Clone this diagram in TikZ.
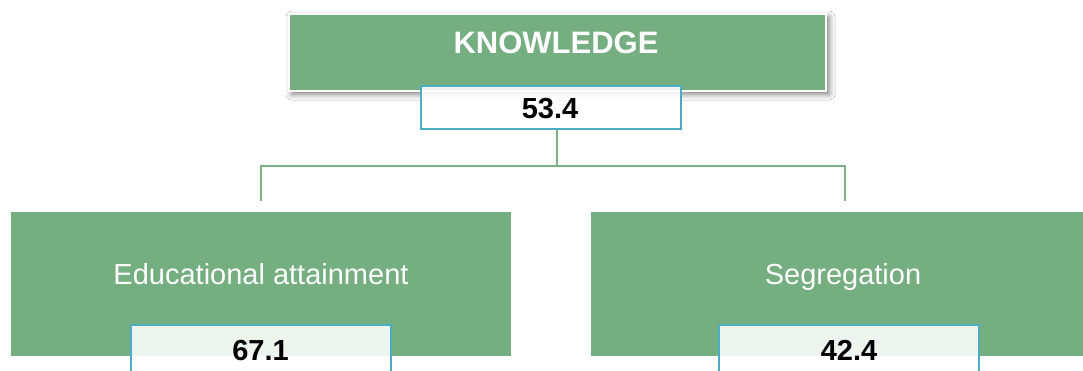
\documentclass[tikz,border=0pt]{standalone}
\usepackage{fontspec}
\setmainfont{Liberation Sans}
\usetikzlibrary{shadows.blur}
\definecolor{boxgreen}{RGB}{117,174,128}
\definecolor{linegreen}{RGB}{122,178,133}
\definecolor{valblue}{RGB}{75,172,198}
\pgfdeclarelayer{bg}
\pgfsetlayers{bg,main}
\tikzset{
  catbox/.style={rectangle, fill=boxgreen, draw=white, line width=1.2pt, inner sep=0pt},
  valbox/.style={rectangle, fill=white, fill opacity=0.88, draw=valblue, draw opacity=1, line width=2pt, inner sep=0pt, minimum width=260pt, minimum height=43pt},
  conn/.style={draw=linegreen, line width=2pt},
  titletext/.style={text=white, font=\fontsize{31}{36}\selectfont\bfseries, anchor=base, inner sep=0pt},
  cattext/.style={text=white, font=\fontsize{29}{34}\selectfont, anchor=base, inner sep=0pt},
  valtext/.style={text=black, font=\fontsize{29}{34}\selectfont\bfseries, anchor=base, inner sep=0pt},
}
\begin{document}
\begin{tikzpicture}[x=1pt,y=-1pt]
\useasboundingbox (0,0) rectangle (1083,370);
\clip (0,0) rectangle (1083,370);
\fill[white] (0,0) rectangle (1083,370);
% top category box
\node[catbox, minimum width=537pt, minimum height=77pt,
      blur shadow={shadow xshift=3pt, shadow yshift=-3pt, shadow blur radius=6pt, shadow opacity=55}]
      (know) at (557.5,52.5) {};
\node[titletext] (knowT) at (556,53) {KNOWLEDGE};
\node[valbox] (v0) at (551,107.5) {};
\node[valtext] (v0T) at (550,118) {53.4};
% bottom category boxes
\node[catbox, minimum width=502pt, minimum height=146pt] (edu) at (261,284) {};
\node[cattext] (eduT) at (261,284) {Educational attainment};
\node[catbox, minimum width=502pt, minimum height=146pt] (seg) at (841,284) {};
\node[cattext] (segT) at (843,284) {Segregation};
\node[valbox, minimum height=50pt] (v1) at (260.5,350) {};
\node[valtext] (v1T) at (260.5,360) {67.1};
\node[valbox, minimum height=50pt] (v2) at (849,350) {};
\node[valtext] (v2T) at (849,360) {42.4};
% connectors
\coordinate (hl) at (261,166);
\coordinate (hr) at (845,166);
\coordinate (el) at (261,201);
\coordinate (er) at (845,201);
\coordinate (hm) at (556.5,166);
\begin{pgfonlayer}{bg}
\draw[conn] (know.south -| hm) -- (hm);
\end{pgfonlayer}
\draw[conn] (v0.south -| hm) -- (hm);
\draw[conn, line join=miter] (el) -- (hl) -- (hr) -- (er);
\end{tikzpicture}
\end{document}
